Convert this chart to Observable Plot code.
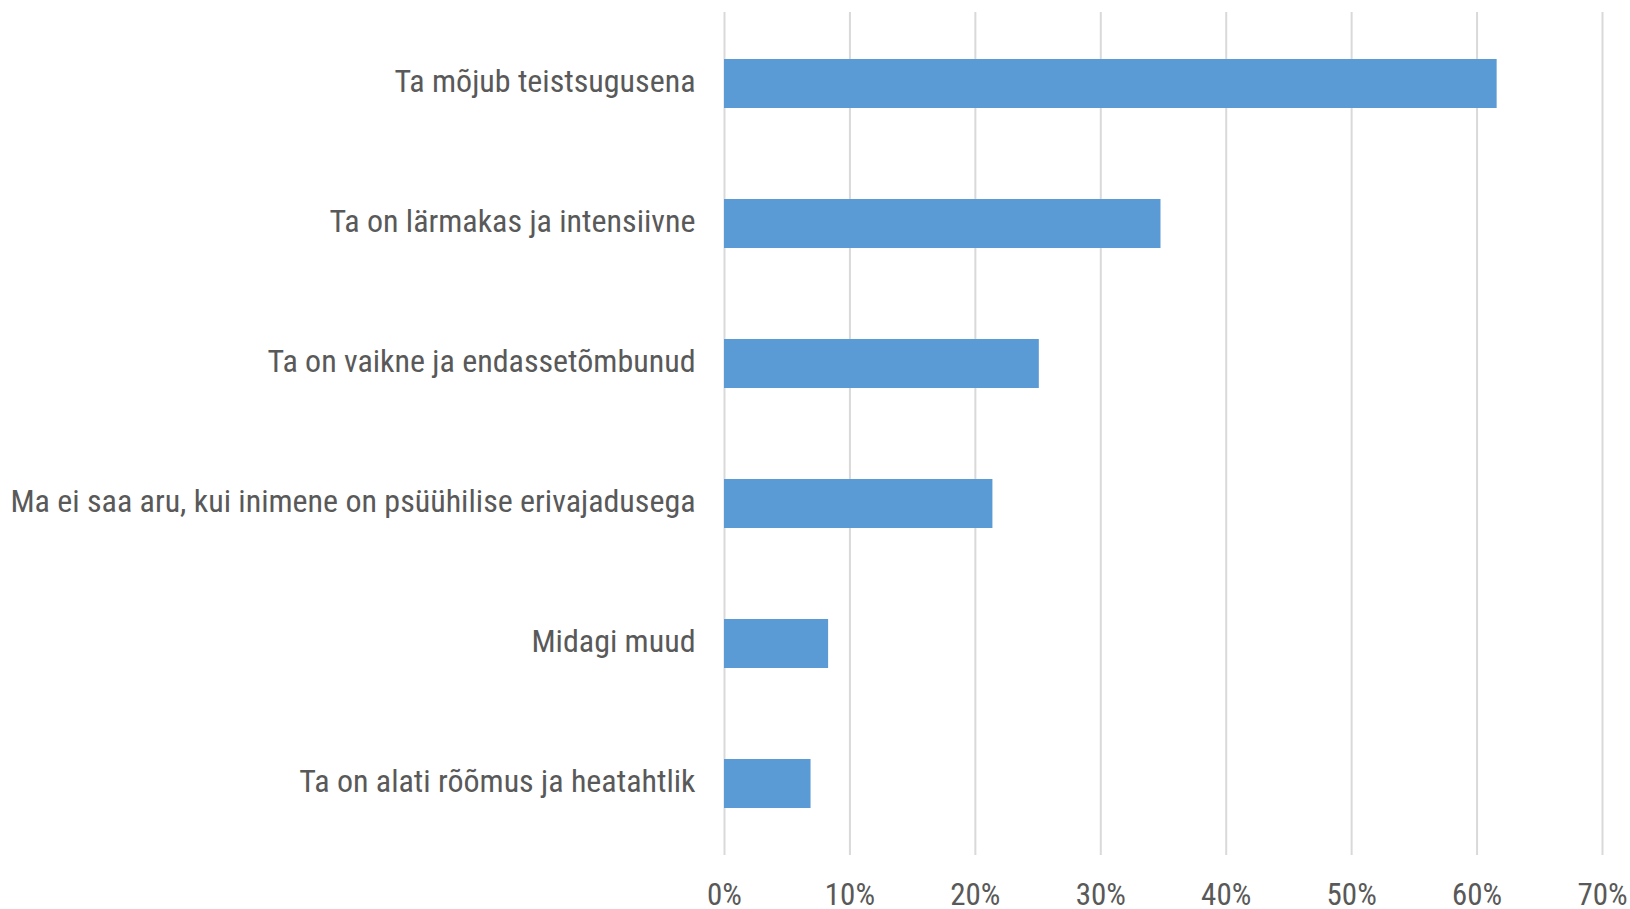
<!DOCTYPE html>
<html>
<head>
<meta charset="utf-8">
<script src="https://cdn.jsdelivr.net/npm/d3@7"></script>
<script src="https://cdn.jsdelivr.net/npm/@observablehq/plot@0.6"></script>
<style>
  html, body { margin: 0; padding: 0; background: #fff; }
  #chart svg { display: block; }
</style>
</head>
<body>
<div id="chart"></div>
<script>
const categories = [
  "Ta mõjub teistsugusena",
  "Ta on lärmakas ja intensiivne",
  "Ta on vaikne ja endassetõmbunud",
  "Ma ei saa aru, kui inimene on psüühilise erivajadusega",
  "Midagi muud",
  "Ta on alati rõõmus ja heatahtlik"
];
const values = [0.616, 0.348, 0.251, 0.214, 0.083, 0.069];
const xTicks = [0, 0.1, 0.2, 0.3, 0.4, 0.5, 0.6, 0.7];

const data = categories.map((c, i) => ({category: c, value: values[i]}));
const FONT = "'Roboto Condensed', 'Liberation Sans Narrow', 'DejaVu Sans Condensed', sans-serif";

const chart = Plot.plot({
  width: 1630,
  height: 909,
  marginLeft: 724,
  marginRight: 28,
  marginTop: 12,
  marginBottom: 54,
  style: {fontFamily: FONT, color: "#595959", background: "#fff"},
  x: {domain: [0, 0.7]},
  y: {domain: categories, paddingInner: 0.648, paddingOuter: 0.324},
  marks: [
    Plot.gridX(xTicks, {stroke: "#D9D9D9", strokeOpacity: 1, strokeWidth: 2}),
    Plot.barX(data, {x: "value", y: "category", fill: "#5B9BD5"}),
    Plot.axisX({ticks: xTicks, tickFormat: d3.format(".0%"), tickSize: 0, tickPadding: 27, fontSize: 31, label: null}),
    Plot.axisY({tickSize: 0, tickPadding: 29, fontSize: 32, dy: -2, label: null})
  ]
});
document.getElementById("chart").appendChild(chart);
</script>
</body>
</html>
